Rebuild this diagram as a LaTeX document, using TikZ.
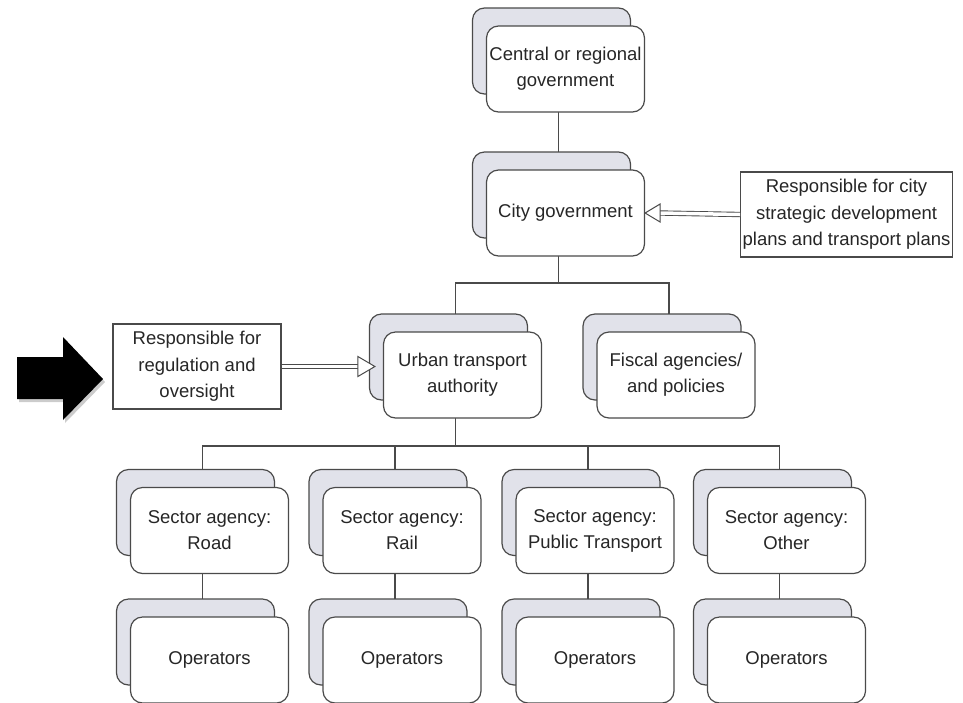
\documentclass[tikz,border=0pt]{standalone}
\usepackage{fontspec}
\setmainfont{Liberation Sans}
\usetikzlibrary{shadows,backgrounds,calc}
\definecolor{linec}{HTML}{4A4A4A}
\definecolor{backf}{HTML}{E1E2EA}
\definecolor{txtc}{HTML}{262626}
\begin{document}
\begin{tikzpicture}[x=1pt,y=-1pt,
  card/.style={draw=linec, line width=1.2pt, fill=white, rounded corners=12pt,
    minimum width=158pt, minimum height=86pt, align=center, text=txtc,
    font=\fontsize{18.5}{26}\selectfont, inner sep=2pt,
    copy shadow={shadow xshift=-14pt, shadow yshift=18pt, fill=backf, draw=linec, line width=1.2pt}},
  note/.style={draw=linec, line width=1.1pt, fill=white, align=center, text=txtc,
    font=\fontsize{18.5}{26.5}\selectfont, inner sep=2pt},
  conn/.style={draw=linec, line width=1.1pt},
  dbl/.style={draw=linec, line width=0.9pt, double=white, double distance=3.5pt},
  headtip/.style={draw=linec, line width=1pt, fill=white, line join=miter}]
\useasboundingbox (0,0) rectangle (963,702);

% nodes
\node[card] (top) at (565.5,69) {Central or regional\\government};
\node[card] (city) at (565.5,213) {City government};
\node[card] (uta) at (462.5,375) {Urban transport\\authority};
\node[card] (fisc) at (676,375) {Fiscal agencies/\\and policies};
\node[card] (road) at (209.5,530.5) {Sector agency:\\Road};
\node[card] (rail) at (402,530.5) {Sector agency:\\Rail};
\node[card] (pubt) at (595,530.5) {Sector agency:\\Public Transport};
\node[card] (oth) at (786.5,530.5) {Sector agency:\\Other};
\node[card] (op1) at (209.5,660) {Operators};
\node[card] (op2) at (402,660) {Operators};
\node[card] (op3) at (595,660) {Operators};
\node[card] (op4) at (786.5,660) {Operators};

\node[note, minimum width=211pt, minimum height=85pt] (rb) at (846.5,214.5)
  {Responsible for city\\strategic development\\plans and transport plans};
\node[note, minimum width=168pt, minimum height=85pt] (lb) at (197,366.5)
  {Responsible for\\regulation and\\oversight};

% tree connectors
\begin{scope}[on background layer]
  \coordinate (j1) at (558.5,283);
  \coordinate (j2) at (455.5,446);
  \draw[conn] ([xshift=-7pt]top.center) -- ([xshift=-7pt]city.center);
  \draw[conn] ([xshift=-7pt]city.center) -- (j1);
  \draw[conn] ([xshift=-7pt]uta.center) |- (j1) -| ([xshift=-7pt]fisc.center);
  \draw[conn] ([xshift=-7pt]uta.center) -- (j2);
  \draw[conn] ([xshift=-7pt]road.center) |- (j2) -| ([xshift=-7pt]oth.center);
  \draw[conn] ([xshift=-7pt]rail.center) -- ([xshift=-7pt]rail.center |- j2);
  \draw[conn] ([xshift=-7pt]pubt.center) -- ([xshift=-7pt]pubt.center |- j2);
  \draw[conn] ([xshift=-7pt]road.center) -- ([xshift=-7pt]op1.center);
  \draw[conn] ([xshift=-7pt]rail.center) -- ([xshift=-7pt]op2.center);
  \draw[conn] ([xshift=-7pt]pubt.center) -- ([xshift=-7pt]op3.center);
  \draw[conn] ([xshift=-7pt]oth.center) -- ([xshift=-7pt]op4.center);
\end{scope}

% hollow double arrows
\draw[dbl] (rb.west) -- ([xshift=15pt]city.east);
\draw[headtip] (city.east) -- ++(15,-9) -- ++(0,18) -- cycle;

\path (uta.west |- lb.east) ++(-8,0) coordinate (t2);
\draw[dbl] (lb.east) -- ([xshift=-17pt]t2);
\draw[headtip] (t2) -- ++(-17,-10) -- ++(0,20) -- cycle;

% black block arrow
\fill[black, drop shadow={opacity=0.4, shadow xshift=2pt, shadow yshift=-3pt}]
  (17,357) -- (63,357) -- (63,337) -- (103,379) -- (63,420) -- (63,399) -- (17,399) -- cycle;
\end{tikzpicture}
\end{document}
